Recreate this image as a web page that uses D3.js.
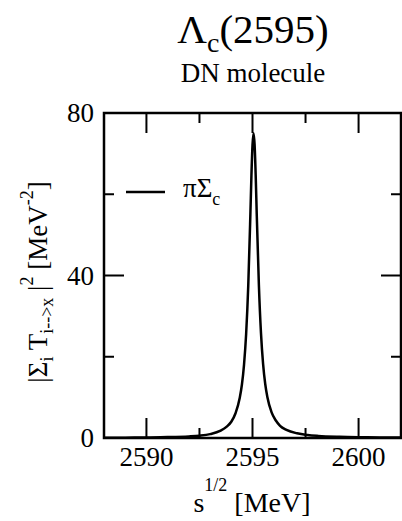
<!DOCTYPE html>
<html><head><meta charset="utf-8">
<script src="https://cdn.jsdelivr.net/npm/d3@7"></script>
<style>
html body svg text, html body svg tspan, svg#c text, svg#c tspan { font-family: "Liberation Serif", "Times New Roman", Times, serif !important; }
</style>
</head><body style="margin:0"><svg id="c" width="402" height="521" style="display:block;background:#fff"></svg>
<script>
const xTicks = [2590, 2595, 2600];
const xMinor = [2592.5, 2597.5];
const yTicks = [0, 40, 80];
const yMinor = [20, 60];
const energy = [2588, 2589, 2590, 2591, 2592, 2592.5, 2593, 2593.5, 2593.8, 2594, 2594.2, 2594.4, 2594.5, 2594.6, 2594.7, 2594.8, 2594.9, 2594.95, 2595.0, 2595.05, 2595.1, 2595.15, 2595.2, 2595.3, 2595.4, 2595.5, 2595.6, 2595.7, 2595.9, 2596.1, 2596.3, 2596.6, 2597.1, 2597.6, 2598.1, 2599.1, 2600.1, 2601, 2602];
const piSigmaC = [0.06, 0.09, 0.14, 0.22, 0.40, 0.58, 0.95, 1.8, 2.85, 4.0, 6.1, 9.9, 13.1, 18.0, 25.6, 37.5, 55.1, 64.7, 72.1, 75.0, 72.1, 64.7, 55.1, 37.8, 25.8, 18.2, 13.3, 10.1, 6.3, 4.3, 3.0, 2.0, 1.15, 0.74, 0.52, 0.30, 0.19, 0.13, 0.10];

const svg = d3.select("#c");
const L = 104, R = 401, T = 113, B = 438;
const x = d3.scaleLinear().domain([2588, 2602]).range([L, R]);
const y = d3.scaleLinear().domain([0, 80]).range([B, T]);

const line = d3.line().x((d, i) => x(energy[i])).y(d => y(d)).curve(d3.curveMonotoneX);
svg.append("path").datum(piSigmaC).attr("d", line).attr("fill", "none")
  .attr("stroke", "#000").attr("stroke-width", 2.5).attr("stroke-linejoin", "round");

const g = svg.append("g").attr("stroke", "#000").attr("stroke-width", 2);
xTicks.forEach(v => {
  g.append("line").attr("x1", x(v)).attr("x2", x(v)).attr("y1", B).attr("y2", B - 20);
  g.append("line").attr("x1", x(v)).attr("x2", x(v)).attr("y1", T).attr("y2", T + 20);
});
xMinor.forEach(v => {
  g.append("line").attr("x1", x(v)).attr("x2", x(v)).attr("y1", B).attr("y2", B - 10);
  g.append("line").attr("x1", x(v)).attr("x2", x(v)).attr("y1", T).attr("y2", T + 10);
});
yTicks.forEach(v => {
  g.append("line").attr("x1", L).attr("x2", L + 20).attr("y1", y(v)).attr("y2", y(v));
  g.append("line").attr("x1", R).attr("x2", R - 20).attr("y1", y(v)).attr("y2", y(v));
});
yMinor.forEach(v => {
  g.append("line").attr("x1", L).attr("x2", L + 10).attr("y1", y(v)).attr("y2", y(v));
  g.append("line").attr("x1", R).attr("x2", R - 10).attr("y1", y(v)).attr("y2", y(v));
});
svg.append("rect").attr("x", L).attr("y", T).attr("width", R - L).attr("height", B - T)
  .attr("fill", "none").attr("stroke", "#000").attr("stroke-width", 2.5);

function txt() {
  return svg.append("text").attr("font-family", "Liberation Serif")
    .style("font-family", "Liberation Serif", "important").attr("fill", "#000");
}

xTicks.forEach(v => {
  txt().attr("x", x(v)).attr("y", 466).attr("text-anchor", "middle").attr("font-size", 27).text(String(v));
});
yTicks.forEach(v => {
  txt().attr("x", 94).attr("y", y(v) + 9).attr("text-anchor", "end").attr("font-size", 27).text(String(v));
});

const t = txt().attr("x", 253).attr("y", 43).attr("text-anchor", "middle").attr("font-size", 41);
t.append("tspan").text("Λ");
t.append("tspan").attr("font-size", 28).attr("dy", 9).text("c");
t.append("tspan").attr("dy", -9).text("(2595)");
txt().attr("x", 253).attr("y", 82).attr("text-anchor", "middle").attr("font-size", 27).text("DN molecule");

const xl = txt().attr("x", 252).attr("y", 512).attr("text-anchor", "middle").attr("font-size", 28);
xl.append("tspan").text("s");
xl.append("tspan").attr("font-size", 18).attr("dy", -21).text("1/2");
xl.append("tspan").attr("dy", 21).text(" [MeV]");

const yl = txt().attr("transform", "translate(47,282) rotate(-90)").attr("text-anchor", "middle").attr("font-size", 27);
yl.append("tspan").text("|Σ");
yl.append("tspan").attr("font-size", 18).attr("dy", 6).text("i");
yl.append("tspan").attr("dy", -6).text(" T");
yl.append("tspan").attr("font-size", 18).attr("dy", 6).text("i-->x");
yl.append("tspan").attr("dy", -6).text(" |");
yl.append("tspan").attr("font-size", 18).attr("dy", -14).text("2");
yl.append("tspan").attr("dy", 14).text(" [MeV");
yl.append("tspan").attr("font-size", 18).attr("dy", -14).text("-2");
yl.append("tspan").attr("dy", 14).text("]");

svg.append("line").attr("x1", 126).attr("x2", 165).attr("y1", 192).attr("y2", 192)
  .attr("stroke", "#000").attr("stroke-width", 2.5);
const lg = txt().attr("x", 183).attr("y", 197).attr("font-size", 27);
lg.append("tspan").text("πΣ");
lg.append("tspan").attr("font-size", 18).attr("dy", 8).text("c");
</script></body></html>
